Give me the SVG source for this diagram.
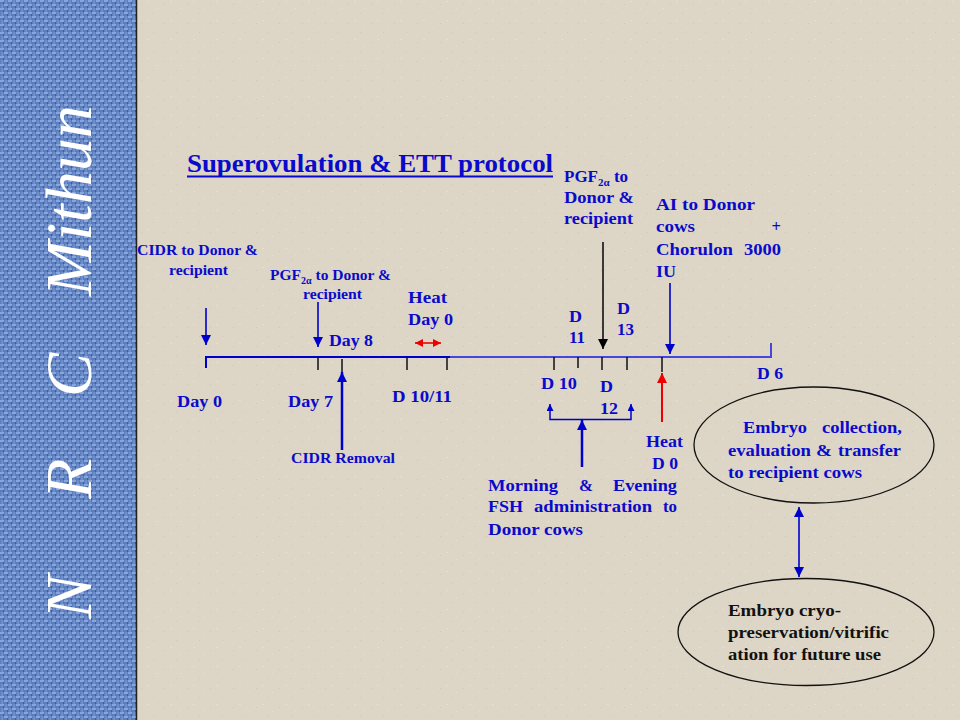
<svg xmlns="http://www.w3.org/2000/svg" width="960" height="720" viewBox="0 0 960 720">
<defs>
<pattern id="weave" width="8" height="8" patternUnits="userSpaceOnUse">
<rect width="8" height="8" fill="#5b7dbd"/>
<rect x="0" y="0" width="4" height="2" fill="#89a6da"/>
<rect x="4" y="4" width="4" height="2" fill="#89a6da"/>
<rect x="5" y="0" width="2" height="4" fill="#6e8ecb"/>
<rect x="1" y="4" width="2" height="4" fill="#6e8ecb"/>
<rect x="3" y="2" width="1" height="2" fill="#3e5c9a"/>
<rect x="7" y="6" width="1" height="2" fill="#3e5c9a"/>
</pattern>
<pattern id="paper" width="23" height="19" patternUnits="userSpaceOnUse">
<rect width="23" height="19" fill="#ddd5c5"/>
<rect x="3" y="4" width="1" height="1" fill="#cfc6b5"/>
<rect x="15" y="13" width="1" height="1" fill="#d2c9b8"/>
<rect x="9" y="1" width="2" height="1" fill="#e6dfd2"/>
<rect x="19" y="8" width="1" height="1" fill="#e7e1d5"/>
</pattern>
<marker id="ab" viewBox="0 0 10 10" refX="10" refY="5" markerWidth="10" markerHeight="11" markerUnits="userSpaceOnUse" orient="auto-start-reverse">
<path d="M0,0 L10,5 L0,10 z" fill="#0000cc"/>
</marker>
<marker id="abs" viewBox="0 0 10 10" refX="10" refY="5" markerWidth="7" markerHeight="7" markerUnits="userSpaceOnUse" orient="auto-start-reverse">
<path d="M0,0 L10,5 L0,10 z" fill="#0000cc"/>
</marker>
<marker id="ak" viewBox="0 0 10 10" refX="10" refY="5" markerWidth="10" markerHeight="11" markerUnits="userSpaceOnUse" orient="auto">
<path d="M0,0 L10,5 L0,10 z" fill="#000"/>
</marker>
<marker id="ar" viewBox="0 0 10 10" refX="10" refY="5" markerWidth="10" markerHeight="11" markerUnits="userSpaceOnUse" orient="auto-start-reverse">
<path d="M0,0 L10,5 L0,10 z" fill="#ee0000"/>
</marker>
<marker id="ars" viewBox="0 0 10 10" refX="10" refY="5" markerWidth="8" markerHeight="8" markerUnits="userSpaceOnUse" orient="auto-start-reverse">
<path d="M0,0 L10,5 L0,10 z" fill="#ee0000"/>
</marker>
</defs>
<style>
text{font-family:"Liberation Serif","Times New Roman",serif;font-weight:bold;fill:#0a0acc}
.s15{font-size:15px}
.s16{font-size:16.5px}
.s17{font-size:17px}
.k{fill:#111}
.tick{stroke:#111;stroke-width:1.5}
.blue{stroke:#0000cc;stroke-width:2;fill:none}
.oval{fill:none;stroke:#111;stroke-width:1.3}
</style>
<rect width="960" height="720" fill="url(#paper)"/>
<rect width="136" height="720" fill="url(#weave)"/>
<line x1="136.5" y1="0" x2="136.5" y2="720" stroke="#222" stroke-width="1.5"/>
<g id="sidebar">
<text transform="translate(91,0) rotate(-90)" style="font-family:'Liberation Serif',serif;font-style:italic;font-weight:normal;font-size:66px;fill:#ffffff"><tspan x="-619">N</tspan><tspan x="-499">R</tspan><tspan x="-397">C</tspan><tspan x="-296">Mithun</tspan></text>
</g>
<g id="title">
<text x="187" y="172" style="font-size:26px" textLength="366" lengthAdjust="spacingAndGlyphs">Superovulation &amp; ETT protocol</text>
<line x1="187" y1="176.5" x2="553" y2="176.5" stroke="#0a0acc" stroke-width="2"/>
</g>
<g id="connectors">
<path d="M206,368 V357 H450" class="blue"/>
<path d="M450,357 H771 V343" fill="none" stroke="#4646d8" stroke-width="2"/>
<line class="tick" x1="318" y1="357" x2="318" y2="370"/>
<line class="tick" x1="342" y1="359" x2="342" y2="372"/>
<line class="tick" x1="407" y1="357" x2="407" y2="370"/>
<line class="tick" x1="447" y1="357" x2="447" y2="370"/>
<line class="tick" x1="554" y1="357" x2="554" y2="370"/>
<line class="tick" x1="578" y1="357" x2="578" y2="368"/>
<line class="tick" x1="602" y1="357" x2="602" y2="370"/>
<line class="tick" x1="627" y1="357" x2="627" y2="370"/>
<line class="tick" x1="662" y1="357" x2="662" y2="372"/>
<line class="blue" x1="206" y1="308" x2="206" y2="345" marker-end="url(#ab)" style="stroke-width:1.6"/>
<line class="blue" x1="318" y1="302" x2="318" y2="347" marker-end="url(#ab)" style="stroke-width:1.6"/>
<line class="blue" x1="342" y1="450" x2="342" y2="372" marker-end="url(#ab)" style="stroke-width:2.5"/>
<line x1="415" y1="343" x2="441" y2="343" stroke="#ee0000" stroke-width="1.6" marker-start="url(#ars)" marker-end="url(#ars)"/>
<line x1="603" y1="242" x2="603" y2="349" stroke="#111" stroke-width="1.6" marker-end="url(#ak)"/>
<line class="blue" x1="670" y1="283" x2="670" y2="354" marker-end="url(#ab)" style="stroke-width:1.6"/>
<line x1="662" y1="422" x2="662" y2="373" stroke="#ee0000" stroke-width="2" marker-end="url(#ar)"/>
<path d="M550,404 V419.5 H631 V404" class="blue" style="stroke-width:1.5" marker-start="url(#abs)" marker-end="url(#abs)"/>
<line class="blue" x1="582" y1="467" x2="582" y2="420" marker-end="url(#ab)" style="stroke-width:2.5"/>
<line class="blue" x1="799" y1="507" x2="799" y2="577" marker-start="url(#ab)" marker-end="url(#ab)" style="stroke-width:1.6"/>
</g>
<g id="cidr">
<text class="s15" x="137" y="255" textLength="121" lengthAdjust="spacingAndGlyphs">CIDR to Donor &amp;</text>
<text class="s15" x="169" y="275" textLength="59" lengthAdjust="spacingAndGlyphs">recipient</text>
</g>
<g id="pgf1">
<text x="270" y="280" style="font-size:15.5px">PGF<tspan dy="4" style="font-size:10px">2α</tspan><tspan dy="-4"> to Donor &amp;</tspan></text>
<text class="s15" x="303" y="299" textLength="59" lengthAdjust="spacingAndGlyphs">recipient</text>
</g>
<g id="heat1">
<text class="s17" x="408" y="303" textLength="39" lengthAdjust="spacingAndGlyphs">Heat</text>
<text class="s17" x="408" y="325" textLength="45" lengthAdjust="spacingAndGlyphs">Day 0</text>
</g>
<g id="day8"><text class="s17" x="329" y="346" textLength="44" lengthAdjust="spacingAndGlyphs">Day 8</text></g>
<g id="day0"><text class="s17" x="177" y="407" textLength="45" lengthAdjust="spacingAndGlyphs">Day 0</text></g>
<g id="day7"><text class="s17" x="288" y="407" textLength="45" lengthAdjust="spacingAndGlyphs">Day 7</text></g>
<g id="d1011"><text class="s17" x="392" y="402" textLength="60" lengthAdjust="spacingAndGlyphs">D 10/11</text></g>
<g id="cidrRemoval"><text class="s15" x="291" y="463" textLength="104" lengthAdjust="spacingAndGlyphs">CIDR Removal</text></g>
<g id="d10"><text class="s16" x="541" y="389" textLength="36" lengthAdjust="spacingAndGlyphs">D 10</text></g>
<g id="d12">
<text class="s16" x="600" y="392" textLength="13" lengthAdjust="spacingAndGlyphs">D</text>
<text class="s16" x="600" y="414" textLength="18" lengthAdjust="spacingAndGlyphs">12</text>
</g>
<g id="d11">
<text class="s16" x="569" y="322" textLength="13" lengthAdjust="spacingAndGlyphs">D</text>
<text class="s16" x="569" y="343" textLength="16" lengthAdjust="spacingAndGlyphs">11</text>
</g>
<g id="d13">
<text class="s16" x="617" y="314" textLength="13" lengthAdjust="spacingAndGlyphs">D</text>
<text class="s16" x="617" y="335" textLength="17" lengthAdjust="spacingAndGlyphs">13</text>
</g>
<g id="pgf2">
<text x="564" y="182" style="font-size:17px">PGF<tspan dy="4" style="font-size:11px">2α</tspan><tspan dy="-4"> to</tspan></text>
<text class="s16" x="564" y="203" textLength="70" lengthAdjust="spacingAndGlyphs">Donor &amp;</text>
<text class="s16" x="564" y="224" textLength="69" lengthAdjust="spacingAndGlyphs">recipient</text>
</g>
<g id="ai">
<text class="s16" x="656" y="210" textLength="99" lengthAdjust="spacingAndGlyphs">AI to Donor</text>
<text class="s16" x="656" y="232" textLength="39" lengthAdjust="spacingAndGlyphs">cows</text>
<text class="s16" x="781" y="232" text-anchor="end">+</text>
<text class="s16" x="656" y="255" textLength="77" lengthAdjust="spacingAndGlyphs">Chorulon</text>
<text class="s16" x="744" y="255" textLength="37" lengthAdjust="spacingAndGlyphs">3000</text>
<text class="s16" x="656" y="277" textLength="20" lengthAdjust="spacingAndGlyphs">IU</text>
</g>
<g id="d6"><text class="s16" x="757" y="379" textLength="26" lengthAdjust="spacingAndGlyphs">D 6</text></g>
<g id="heat2">
<text class="s16" x="646" y="447" textLength="37" lengthAdjust="spacingAndGlyphs">Heat</text>
<text class="s16" x="652" y="469" textLength="26" lengthAdjust="spacingAndGlyphs">D 0</text>
</g>
<g id="fsh">
<text class="s16" x="488" y="491" textLength="70" lengthAdjust="spacingAndGlyphs">Morning</text>
<text class="s16" x="579" y="491" textLength="14" lengthAdjust="spacingAndGlyphs">&amp;</text>
<text class="s16" x="613" y="491" textLength="64" lengthAdjust="spacingAndGlyphs">Evening</text>
<text class="s16" x="488" y="512" textLength="35" lengthAdjust="spacingAndGlyphs">FSH</text>
<text class="s16" x="534" y="512" textLength="118" lengthAdjust="spacingAndGlyphs">administration</text>
<text class="s16" x="663" y="512" textLength="14" lengthAdjust="spacingAndGlyphs">to</text>
<text class="s16" x="488" y="535" textLength="95" lengthAdjust="spacingAndGlyphs">Donor cows</text>
</g>
<g id="collection">
<ellipse class="oval" cx="814" cy="445" rx="120" ry="58"/>
<text class="s16" x="743" y="433" textLength="64" lengthAdjust="spacingAndGlyphs">Embryo</text>
<text class="s16" x="822" y="433" textLength="80" lengthAdjust="spacingAndGlyphs">collection,</text>
<text class="s16" x="728" y="456" textLength="83" lengthAdjust="spacingAndGlyphs">evaluation</text>
<text class="s16" x="816" y="456" textLength="16" lengthAdjust="spacingAndGlyphs">&amp;</text>
<text class="s16" x="838" y="456" textLength="63" lengthAdjust="spacingAndGlyphs">transfer</text>
<text class="s16" x="728" y="478" textLength="134" lengthAdjust="spacingAndGlyphs">to recipient cows</text>
</g>
<g id="cryo">
<ellipse class="oval" cx="806" cy="632" rx="128" ry="53.5"/>
<text class="s16 k" x="728" y="616" textLength="113" lengthAdjust="spacingAndGlyphs">Embryo cryo-</text>
<text class="s16 k" x="728" y="638" textLength="161" lengthAdjust="spacingAndGlyphs">preservation/vitrific</text>
<text class="s16 k" x="728" y="660" textLength="153" lengthAdjust="spacingAndGlyphs">ation for future use</text>
</g>
</svg>
